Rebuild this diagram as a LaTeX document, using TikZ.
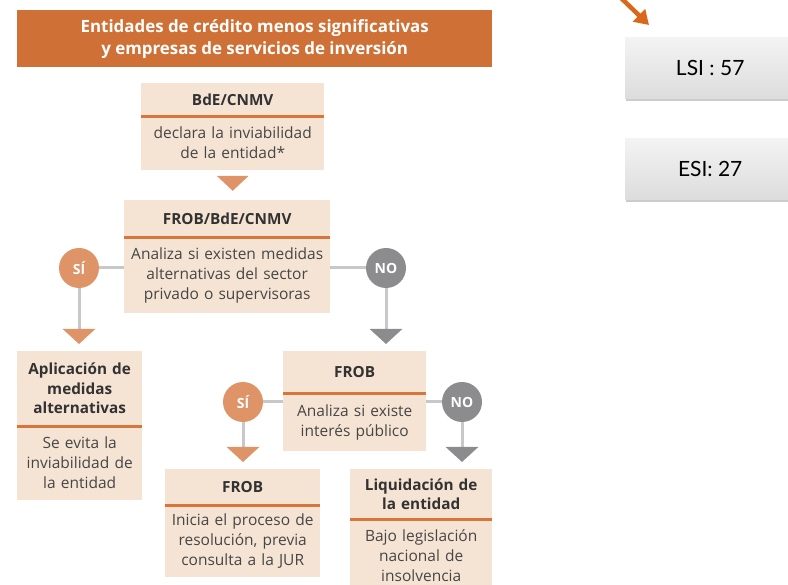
\documentclass[tikz,border=0pt]{standalone}
\usepackage{fontspec}
\setmainfont{Open Sans}
\newfontfamily\statfont{Lato}
\usetikzlibrary{arrows.meta,shadows}

\definecolor{hdror}{RGB}{207,113,54}
\definecolor{peach}{RGB}{245,228,212}
\definecolor{sepor}{RGB}{214,118,58}
\definecolor{sior}{RGB}{222,148,102}
\definecolor{nogray}{RGB}{140,140,142}
\definecolor{lngray}{RGB}{200,200,202}
\definecolor{txt}{RGB}{50,50,50}
\definecolor{arror}{RGB}{218,104,28}

\tikzset{
  hdr/.style={fill=peach, text=txt, font=\bfseries\fontsize{15.3}{19.5}\selectfont,
    align=center, inner xsep=2pt, inner ysep=0pt, anchor=north west},
  bdy/.style={fill=peach, text=txt!90, font=\fontsize{15.5}{20}\selectfont,
    align=center, inner xsep=2pt, inner ysep=0pt, anchor=north},
  sep/.style={draw=sepor, line width=2.5pt},
  yesdot/.style={circle, fill=sior, text=white, font=\bfseries\fontsize{14}{14}\selectfont,
    minimum size=40pt, inner sep=0pt},
  nodot/.style={yesdot, fill=nogray},
  conn/.style={draw=lngray, line width=3pt},
  yesarr/.style={conn, -{Triangle[width=32pt,length=15pt,color=sior]}, shorten >=7pt},
  noarr/.style={conn, -{Triangle[width=32pt,length=15pt,color=nogray]}, shorten >=7pt},
  statbox/.style={shade, top color=gray!9, bottom color=gray!27, text=black,
    font=\statfont\fontsize{21}{21}\selectfont, minimum width=170pt, minimum height=61pt,
    anchor=north west, drop shadow={opacity=0.4, shadow xshift=1pt, shadow yshift=-3pt}},
}

\begin{document}
\begin{tikzpicture}[x=1pt,y=-1pt]
  \useasboundingbox (0,0) rectangle (788,585);
  % title bar
  \node[fill=hdror, text=white, font=\bfseries\fontsize{16.9}{22}\selectfont, align=center,
    minimum width=475pt, minimum height=57pt, inner sep=0pt, anchor=north west]
    (title) at (17,10) {Entidades de crédito menos significativas\\y empresas de servicios de inversión};

  % BdE/CNMV
  \node[hdr, text width=179pt, minimum height=33pt] (bdeh) at (141,83) {BdE/CNMV};
  \node[bdy, text width=179pt, minimum height=53pt] (bdeb) at (bdeh.south) {declara la inviabilidad\\de la entidad*};
  \draw[sep] (bdeh.south west) -- (bdeh.south east);
  \fill[sior] ([xshift=-16pt,yshift=-6pt]bdeb.south) -- ([xshift=16pt,yshift=-6pt]bdeb.south)
    -- ([yshift=-21pt]bdeb.south) -- cycle;

  % FROB/BdE/CNMV
  \node[hdr, text width=202pt, minimum height=37pt] (frobh) at (124,200) {FROB/BdE/CNMV};
  \node[bdy, text width=202pt, minimum height=75pt] (frobb) at (frobh.south) {Analiza si existen medidas\\alternativas del sector\\privado o supervisoras};
  \draw[sep] (frobh.south west) -- (frobh.south east);

  \node[yesdot] (si1) at (79,268) {SÍ};
  \node[nodot] (no1) at (386,268) {NO};
  \draw[conn] (si1.east) -- (si1 -| frobb.west);
  \draw[conn] (no1.west) -- (no1 -| frobb.east);

  % medidas alternativas
  \node[hdr, text width=121pt, minimum height=75pt] (aplh) at (17,351) {Aplicación de\\medidas\\alternativas};
  \node[bdy, text width=121pt, minimum height=73pt] (aplb) at (aplh.south) {Se evita la\\inviabilidad de\\la entidad};
  \draw[sep] (aplh.south west) -- (aplh.south east);
  \draw[yesarr] (si1.south) -- (si1 |- aplh.north);

  % FROB interes publico
  \node[hdr, text width=139pt, minimum height=42pt] (frob2h) at (283,351) {FROB};
  \node[bdy, text width=139pt, minimum height=57pt] (frob2b) at (frob2h.south) {Analiza si existe\\interés público};
  \draw[sep] (frob2h.south west) -- (frob2h.south east);
  \draw[noarr] (no1.south) -- (no1 |- frob2h.north);

  \node[yesdot] (si2) at (243,402) {SÍ};
  \node[nodot] (no2) at (462,402) {NO};
  \draw[conn] (si2.east) -- (si2 -| frob2b.west);
  \draw[conn] (no2.west) -- (no2 -| frob2b.east);

  % resolucion
  \node[hdr, text width=151pt, minimum height=36pt] (resh) at (165,469) {FROB};
  \node[bdy, text width=151pt, minimum height=71pt] (resb) at (resh.south) {Inicia el proceso de\\resolución, previa\\consulta a la JUR};
  \draw[sep] (resh.south west) -- (resh.south east);
  \draw[yesarr] (si2.south) -- (si2 |- resh.north);

  % liquidacion
  \node[hdr, text width=138pt, minimum height=50pt] (liqh) at (350,469) {Liquidación de\\la entidad};
  \node[bdy, text width=138pt, minimum height=72pt] (liqb) at (liqh.south) {Bajo legislación\\nacional de\\insolvencia};
  \draw[sep] (liqh.south west) -- (liqh.south east);
  \draw[noarr] (no2.south) -- (no2 |- liqh.north);

  % right side
  \node[statbox] (lsi) at (625,37) {LSI : 57};
  \node[statbox] (esi) at (625,138) {ESI: 27};
  \coordinate (arrtail) at (619,-4);
  \coordinate (arrtip) at (649,25);
  \draw[draw=arror, line width=4.5pt, -{Triangle[width=17pt,length=14pt]}] (arrtail) -- (arrtip);
\end{tikzpicture}
\end{document}
